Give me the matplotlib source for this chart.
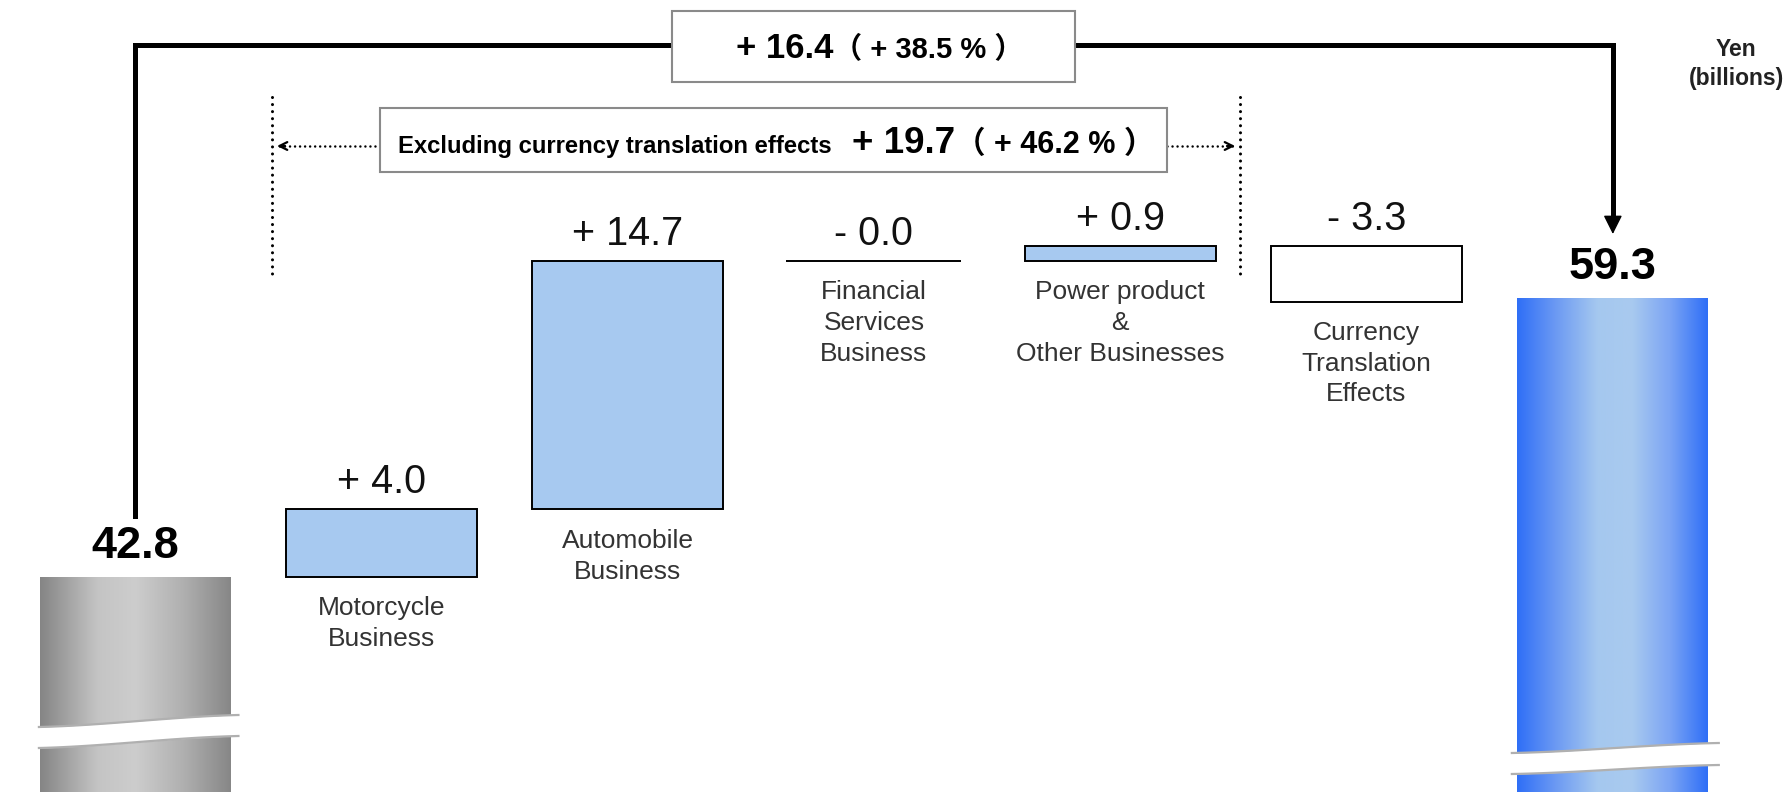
import numpy as np
import matplotlib.pyplot as plt
from matplotlib import transforms
from matplotlib.colors import LinearSegmentedColormap
from matplotlib.patches import Rectangle

plt.rcParams['font.family'] = ['Liberation Sans', 'Noto Sans CJK JP', 'DejaVu Sans']

# operating profit bridge, yen (billions)
start_value = 42.8
end_value = 59.3
start_label = "42.8"
end_label = "59.3"
segment_names = ["Motorcycle\nBusiness", "Automobile\nBusiness",
                 "Financial\nServices\nBusiness",
                 "Power product\n&\nOther Businesses",
                 "Currency\nTranslation\nEffects"]
segment_deltas = [4.0, 14.7, -0.0, 0.9, -3.3]
segment_labels = ["+ 4.0", "+ 14.7", "- 0.0", "+ 0.9", "- 3.3"]
total_change = "+ 16.4"
total_pct = "（ + 38.5 % ）"
excl_note = "Excluding currency translation effects"
excl_change = "+ 19.7"
excl_pct = "（ + 46.2 % ）"
unit_label = "Yen\n(billions)"

W, H = 1787, 792
fig = plt.figure(figsize=(W / 100, H / 100), dpi=100)
ax = fig.add_axes([0, 0, 1, 1])
ax.set_xlim(-0.548, 6.707)
ax.set_ylim(30.08, 76.94)
ax.set_autoscale_on(False)
ax.axis('off')
renderer = fig.canvas.get_renderer()


def fx(px):
    return px / W


def fy(py):
    return 1 - py / H


bt = transforms.blended_transform_factory(ax.transData, ax.transAxes)
bw = 0.775
ymin = ax.get_ylim()[0]
n = len(segment_deltas)
x_end = n + 1


def gradient_bar(x, top, stops):
    bar = ax.bar(x, top - ymin, bottom=ymin, width=bw, color='none', lw=0)[0]
    cmap = LinearSegmentedColormap.from_list('grad', stops)
    im = ax.imshow(np.linspace(0, 1, 256)[None, :], cmap=cmap, aspect='auto',
                   extent=(x - bw / 2, x + bw / 2, ymin, top), zorder=1,
                   interpolation='bilinear')
    im.set_clip_path(bar)


def axis_break(x, left, right, top_l, top_r, bot_l, bot_r):
    t = np.linspace(0, 1, 80)
    s = 0.4 * t + 0.6 * (3 * t ** 2 - 2 * t ** 3)
    xx = x + left + (right - left) * t
    top = top_l + (top_r - top_l) * s
    bot = bot_l + (bot_r - bot_l) * s
    ax.fill_between(xx, fy(top), fy(bot), transform=bt, color='white', lw=0, zorder=3)
    ax.plot(xx, fy(top), transform=bt, color='#b0b0b0', lw=1.6, zorder=4)
    ax.plot(xx, fy(bot), transform=bt, color='#b0b0b0', lw=1.6, zorder=4)


gradient_bar(0, start_value, [(0, '#858585'), (0.3, '#c4c4c4'), (0.5, '#cdcdcd'),
                              (0.75, '#b0b0b0'), (1, '#878787')])
gradient_bar(x_end, end_value, [(0, '#2f6ff7'), (0.2, '#6b99f3'), (0.42, '#a5c8ef'),
                                (0.6, '#a9caef'), (0.8, '#7ca5f4'), (1, '#2f6ff7')])
axis_break(0, -0.39, 0.42, 727, 715, 748, 736)
axis_break(x_end, -0.41, 0.43, 753, 743, 774, 765)

ax.annotate(start_label, (0, start_value), xytext=(0, 22), textcoords='offset points',
            ha='center', va='center', fontsize=32.5, fontweight='bold')
ax.annotate(end_label, (x_end, end_value), xytext=(0, 22), textcoords='offset points',
            ha='center', va='center', fontsize=32.5, fontweight='bold')

bottoms = start_value + np.concatenate([[0], np.cumsum(segment_deltas)[:-1]])
for i, (d, b, lab, name) in enumerate(zip(segment_deltas, bottoms, segment_labels, segment_names)):
    x = i + 1
    if abs(d) < 0.05:
        ax.hlines(b, x - 0.355, x + 0.355, color='black', lw=1.4, zorder=2)
    else:
        ax.bar(x, d, bottom=b, width=bw, color='#a7c9f0' if d > 0 else 'white',
               edgecolor='black', lw=1.4, zorder=2)
    top, low = max(b, b + d), min(b, b + d)
    ax.annotate(lab, (x, top), xytext=(0, 19.5), textcoords='offset points',
                ha='center', va='center', fontsize=28.5, color='#111111')
    ax.annotate(name, (x, low), xytext=(0, -14), textcoords='offset points',
                ha='center', va='top', fontsize=19, color='#333333', linespacing=1.35)

# overall bracket
ax.plot([0, 0, x_end, x_end], [fy(516), fy(45), fy(45), fy(220)], transform=bt,
        color='black', lw=3.6, solid_joinstyle='miter', zorder=2)
ax.annotate('', xy=(x_end, fy(234)), xytext=(x_end, fy(214)), xycoords=bt, textcoords=bt,
            arrowprops=dict(arrowstyle='-|>', mutation_scale=29, lw=1, color='black',
                            shrinkA=0, shrinkB=0))


def text_box(x0, y0, x1, y1):
    ax.add_patch(Rectangle((fx(x0), fy(y1)), fx(x1) - fx(x0), (y1 - y0) / H,
                           transform=ax.transAxes, facecolor='white',
                           edgecolor='#8a8a8a', lw=1.5, zorder=5))


def text_row(parts, cx, base):
    objs = [ax.text(0, fy(base), s, transform=ax.transAxes, ha='left', va='baseline',
                    fontsize=fs, fontweight='bold', zorder=6) for s, fs in parts]
    widths = [t.get_window_extent(renderer).width for t in objs]
    x = cx - sum(widths) / 2
    for t, w in zip(objs, widths):
        t.set_x(fx(x))
        x += w


text_box(672, 11, 1075, 82)
text_row([(total_change, 25), (total_pct, 21)], 880, 58)

# excluding-currency bracket
for px in (272, 1240):
    ax.plot([fx(px)] * 2, [fy(97), fy(277)], transform=ax.transAxes, color='black',
            lw=2.2, linestyle=(0, (0.01, 2.3)), dash_capstyle='round')
for x_from, x_to in ((380, 277), (1167, 1235)):
    ax.plot([fx(x_from), fx(x_to)], [fy(146)] * 2, transform=ax.transAxes, color='black',
            lw=1.8, linestyle=(0, (0.01, 2.0)), dash_capstyle='round')
    ax.annotate('', xy=(fx(x_to), fy(146)), xytext=(fx(x_to + (8 if x_to < x_from else -8)), fy(146)),
                xycoords='axes fraction', textcoords='axes fraction',
                arrowprops=dict(arrowstyle='->', lw=1.6, color='black', mutation_scale=14,
                                shrinkA=0, shrinkB=0))
text_box(380, 108, 1167, 172)
text_row([(excl_note + "   ", 17.2), (excl_change, 26.5), (excl_pct, 22)], 776, 153)

ax.text(fx(1736), fy(64), unit_label, transform=ax.transAxes, ha='center', va='center',
        fontsize=16.5, fontweight='bold', color='#222222', linespacing=1.3)

fig.savefig('out.png', dpi=100)
